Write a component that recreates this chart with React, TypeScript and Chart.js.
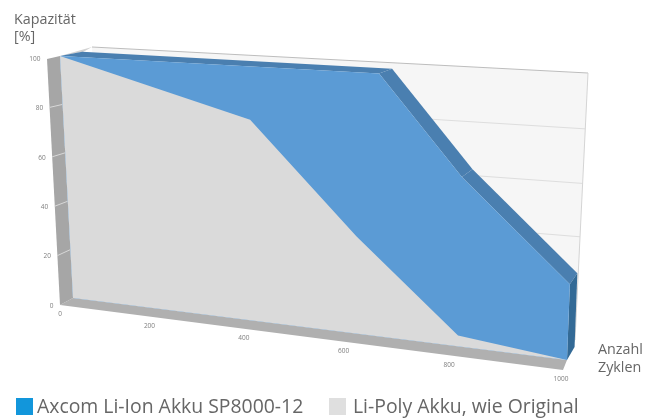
import React, { useEffect, useRef } from "react";
import { Chart, registerables } from "chart.js";

Chart.register(...registerables);

const blueCycles = [0, 662, 812, 1000];
const blueCapacity = [100, 96.5, 61.5, 27];
const grayCycles = [0, 412, 620, 810, 1000];
const grayCapacity = [100, 78, 37, 4, 0];
const xTicks = [0, 200, 400, 600, 800, 1000];
const yTicks = [0, 20, 40, 60, 80, 100];
const seriesNames = ["Axcom Li-Ion Akku SP8000-12", "Li-Poly Akku, wie Original"];

type P = [number, number];

// unit square -> quadrilateral (0,0) (1,0) (1,1) (0,1)
function quad(a: P, b: P, c: P, d: P) {
  const dx1 = b[0] - c[0], dx2 = d[0] - c[0], sx = a[0] - b[0] + c[0] - d[0];
  const dy1 = b[1] - c[1], dy2 = d[1] - c[1], sy = a[1] - b[1] + c[1] - d[1];
  const den = dx1 * dy2 - dx2 * dy1;
  const g = (sx * dy2 - dx2 * sy) / den;
  const h = (dx1 * sy - sx * dy1) / den;
  const m = [b[0] - a[0] + g * b[0], d[0] - a[0] + h * d[0], a[0], b[1] - a[1] + g * b[1], d[1] - a[1] + h * d[1], a[1]];
  return (u: number, v: number): P => {
    const w = g * u + h * v + 1;
    return [(m[0] * u + m[1] * v + m[2]) / w, (m[3] * u + m[4] * v + m[5]) / w];
  };
}

const front = quad([73, 298], [567, 360], [578, 68], [60, 56]);
const back = quad([105, 293], [575, 340], [588, 73], [92, 47]);
const VP: P = [828, -89];
const DEPTH = 0.029;
const deep = (p: P): P => [p[0] + DEPTH * (VP[0] - p[0]), p[1] + DEPTH * (VP[1] - p[1])];

const poly = (ctx: CanvasRenderingContext2D, pts: P[], fill: string) => {
  ctx.beginPath();
  pts.forEach((p, i) => (i ? ctx.lineTo(p[0], p[1]) : ctx.moveTo(p[0], p[1])));
  ctx.closePath();
  ctx.fillStyle = fill;
  ctx.fill();
};
const seg = (ctx: CanvasRenderingContext2D, a: P, b: P, color: string, w = 1) => {
  ctx.beginPath();
  ctx.moveTo(a[0], a[1]);
  ctx.lineTo(b[0], b[1]);
  ctx.strokeStyle = color;
  ctx.lineWidth = w;
  ctx.stroke();
};
const uOf = (c: any, x: number) => (c.scales.x.getPixelForValue(x) - c.scales.x.left) / c.scales.x.width;
const vOf = (c: any, y: number) => (c.scales.y.bottom - c.scales.y.getPixelForValue(y)) / c.scales.y.height;

const perspective = {
  id: "perspective",
  afterDatasetsUpdate(c: any) {
    c.data.datasets.forEach((ds: any, i: number) => {
      c.getDatasetMeta(i).data.forEach((el: any, j: number) => {
        const p = front(uOf(c, ds.data[j].x), vOf(c, ds.data[j].y));
        el.x = p[0];
        el.y = p[1];
      });
    });
  },
  beforeDatasetsDraw(c: any) {
    const ctx: CanvasRenderingContext2D = c.ctx;
    ctx.save();
    // back wall
    poly(ctx, [back(0, 0), back(1, 0), back(1, 1), back(0, 1)], "#f6f6f6");
    yTicks.slice(1, -1).forEach((t) => {
      const v = vOf(c, t);
      seg(ctx, back(0, v), back(1, v), "#dedede");
    });
    seg(ctx, back(0, 1), back(1, 1), "#bdbdbd");
    seg(ctx, back(1, 0), back(1, 1), "#d4d4d4");
    // floor
    poly(ctx, [[73, 298], [105, 293], back(1, 0), [567, 360]], "#e6e6e6");
    poly(ctx, [[60, 305], [73, 298], [567, 360], [563, 370]], "#b0b0b0");
    // left wall
    poly(ctx, [[60, 56], [92, 47], [83, 52]], "#d2d2d2");
    poly(ctx, [[47, 59], [60, 56], [73, 298], [60, 305]], "#a6a6a6");
    yTicks.slice(1, -1).forEach((t) => {
      const v = vOf(c, t);
      seg(ctx, [60 - 13 * v, 305 - 247 * v], [73 - 13 * v, 298 - 242 * v], "#d8d8d8");
    });
    ctx.restore();
  },
  beforeDatasetDraw(c: any, args: any) {
    const ctx: CanvasRenderingContext2D = c.ctx;
    const ds = c.data.datasets[args.index];
    const pts: P[] = args.meta.data.map((el: any) => [el.x, el.y] as P);
    const base: P[] = [front(uOf(c, ds.data[ds.data.length - 1].x), 0), front(uOf(c, ds.data[0].x), 0)];
    ctx.save();
    if (ds.depthColor) {
      pts.slice(0, -1).forEach((p, i) => {
        poly(ctx, [p, pts[i + 1], deep(pts[i + 1]), deep(p)], ds.depthColor);
      });
      const last = pts[pts.length - 1];
      poly(ctx, [last, deep(last), deep(base[0]), base[0]], ds.sideColor);
    }
    poly(ctx, [...pts, ...base], ds.backgroundColor);
    ctx.restore();
    return true;
  },
  afterDraw(c: any) {
    const ctx: CanvasRenderingContext2D = c.ctx;
    ctx.save();
    // tick labels
    ctx.fillStyle = "#7f7f7f";
    ctx.font = "6.5px 'Open Sans'";
    ctx.textBaseline = "middle";
    ctx.textAlign = "center";
    xTicks.forEach((t) => {
      const u = uOf(c, t);
      const f = u / (u + 1.15 * (1 - u));
      ctx.fillText(String(t), 60 + 501 * f, 305 + 65 * f + 9.5);
    });
    ctx.textAlign = "right";
    yTicks.forEach((t) => {
      const v = vOf(c, t);
      ctx.fillText(String(t), 60 - 13 * v - 6.5, 305 - 247 * v + 1);
    });
    // axis titles
    ctx.fillStyle = "#666666";
    ctx.textAlign = "left";
    ctx.font = "14.3px 'Open Sans'";
    ctx.fillText("Kapazität", 14, 20);
    ctx.fillText("[%]", 14, 37);
    ctx.fillText("Anzahl", 598, 350);
    ctx.fillText("Zyklen", 598, 368);
    // legend
    const swatches = [16, 329];
    const textX = [37, 353];
    ctx.font = "19.4px 'Open Sans'";
    c.data.datasets.forEach((ds: any, i: number) => {
      ctx.fillStyle = ds.legendColor;
      ctx.fillRect(swatches[i], 398, 17, 17);
      ctx.fillStyle = "#666666";
      ctx.fillText(ds.label, textX[i], 407);
    });
    ctx.restore();
  },
};

export default function App() {
  const ref = useRef<HTMLCanvasElement>(null);
  useEffect(() => {
    const chart = new Chart(ref.current as HTMLCanvasElement, {
      type: "scatter",
      data: {
        datasets: [
          {
            label: seriesNames[0],
            data: blueCycles.map((x, i) => ({ x, y: blueCapacity[i] })),
            backgroundColor: "#5b9bd5",
            depthColor: "#4a7fb0",
            sideColor: "#336a96",
            legendColor: "#1296db",
            showLine: true,
            borderWidth: 0,
            pointRadius: 0,
            order: 2,
          } as any,
          {
            label: seriesNames[1],
            data: grayCycles.map((x, i) => ({ x, y: grayCapacity[i] })),
            backgroundColor: "#dadada",
            legendColor: "#dfdfdf",
            showLine: true,
            borderWidth: 0,
            pointRadius: 0,
            order: 1,
          } as any,
        ],
      },
      options: {
        animation: false,
        responsive: false,
        layout: { padding: 0 },
        plugins: { legend: { display: false }, tooltip: { enabled: false } },
        scales: {
          x: { type: "linear", min: 0, max: 1000, display: false },
          y: { type: "linear", min: 0, max: 100, display: false },
        },
      },
      plugins: [perspective],
    });
    return () => chart.destroy();
  }, []);
  return (
    <div style={{ position: "fixed", left: 0, top: 0, width: 656, height: 419, background: "#fff" }}>
      <canvas ref={ref} width={656} height={419} style={{ display: "block" }} />
    </div>
  );
}
